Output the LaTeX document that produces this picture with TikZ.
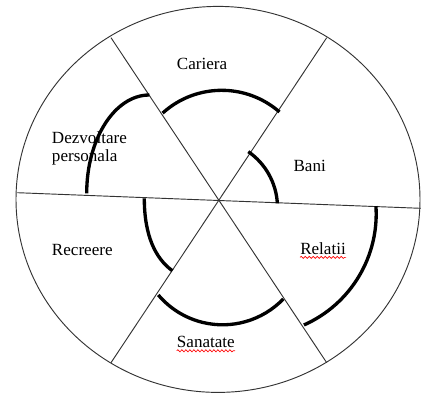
\documentclass[tikz,border=0pt]{standalone}
\usepackage{fontspec}
\setmainfont{Liberation Serif}
\usetikzlibrary{decorations.pathmorphing}
\begin{document}
\begin{tikzpicture}[x=0.75pt,y=-0.75pt,
  thinline/.style={draw=black!80,line width=0.7pt},
  thickarc/.style={draw=black,line width=2.5pt,line cap=butt},
  lbl/.style={anchor=base west,inner sep=0pt,font=\fontsize{12.8}{15}\selectfont},
  spell/.style={draw=red,line width=0.5pt,decorate,decoration={snake,amplitude=0.8pt,segment length=3pt}}]
\useasboundingbox (0,0) rectangle (443,404);
% outer circle
\draw[thinline] (218,199.4) ellipse [x radius=202, y radius=193];
% sector lines
\coordinate (w) at (17.3,192.7);
\coordinate (e) at (420.7,208.3);
\coordinate (nw) at (111,37.7);
\coordinate (se) at (326.7,362.7);
\coordinate (ne) at (326.7,37.7);
\coordinate (sw) at (111,362.7);
\draw[thinline] (w) -- (e);
\draw[thinline] (nw) -- (se);
\draw[thinline] (ne) -- (sw);
% thick arcs (image angles: y grows downwards)
\draw[thickarc] ([shift={(-132.2:87.9)}]221.7,178.2) arc[start angle=-132.2, end angle=-48.9, radius=87.9];
\draw[thickarc] ([shift={(-55.2:68)}]209.5,207.5) arc[start angle=-55.2, end angle=-3.5, radius=68];
\draw[thickarc] ([shift={(-3.7:121.5)}]254.7,213.9) arc[start angle=-3.7, end angle=66.1, radius=121.5];
\draw[thickarc] ([shift={(43.9:84.2)}]222.6,240.6) arc[start angle=43.9, end angle=139.8, radius=84.2];
\draw[thickarc] (144.3,198.3) .. controls (144.3,235) and (155,258) .. (172.3,270.7);
\draw[thickarc] (86.7,193.3) arc[start angle=180, end angle=270, x radius=62.6, y radius=98.3];
% labels
\node[lbl] (cariera) at (176.7,69.3) {Cariera};
\node[lbl] (dezv) at (51.7,143.3) {Dezvoltare};
\node[lbl] (pers) at (51.7,161.7) {personala};
\node[lbl] (recreere) at (51.7,255) {Recreere};
\node[lbl] (bani) at (293.3,171.7) {Bani};
\node[lbl] (relatii) at (300,254.3) {Relatii};
\node[lbl] (sanatate) at (176.7,347.7) {Sanatate};
% spell-check underlines
\draw[spell] ([yshift=-2.3pt]relatii.base west) -- ([yshift=-2.3pt]relatii.base east);
\draw[spell] ([yshift=-2.3pt]sanatate.base west) -- ([yshift=-2.3pt]sanatate.base east);
\end{tikzpicture}
\end{document}
